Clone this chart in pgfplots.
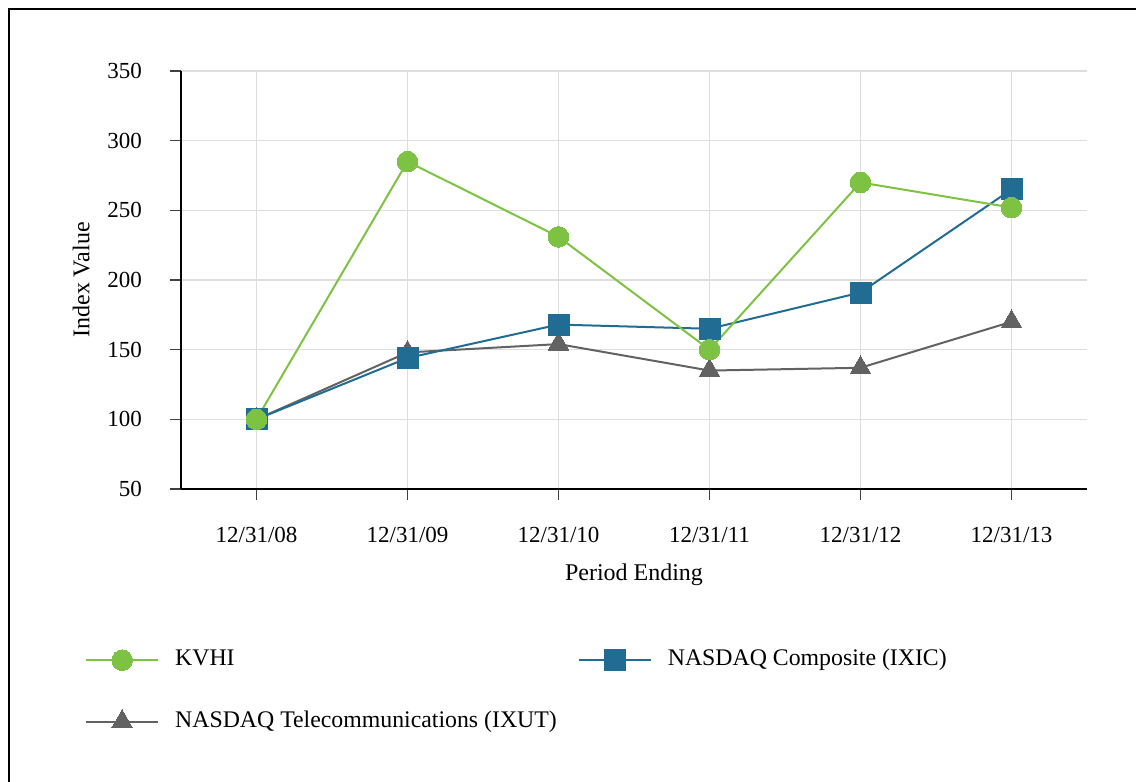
\documentclass[border=0pt]{standalone}
\usepackage{pgfplots}
\pgfplotsset{compat=1.18}
\usepackage{fontspec}
\setmainfont{Liberation Serif}

\definecolor{kvgreen}{RGB}{125,194,66}
\definecolor{ixblue}{RGB}{32,108,146}
\definecolor{utgray}{RGB}{98,98,98}
\definecolor{gridgray}{RGB}{222,222,222}

\begin{document}
\fontsize{23}{27}\selectfont
\begin{tikzpicture}[x=1pt,y=1pt]
\path[use as bounding box] (0,0) rectangle (1136,782);
\draw[line width=2.5pt] (9,0) -- (9,773) -- (1136,773);
\begin{axis}[
  at={(181pt,293pt)}, anchor=south west,
  scale only axis, width=906pt, height=418pt,
  xmin=-0.5, xmax=5.5, ymin=50, ymax=350,
  xtick={0,1,2,3,4,5},
  xticklabels={12/31/08,12/31/09,12/31/10,12/31/11,12/31/12,12/31/13},
  ytick={50,100,150,200,250,300,350},
  /pgf/number format/assume math mode=true,
  axis x line*=bottom, axis y line*=left,
  axis line style={line width=2.4pt, black, -},
  grid=major, major grid style={gridgray, line width=1.4pt},
  tick align=outside, major tick length=11pt,
  tick style={line width=1.4pt, black!75},
  xticklabel style={inner sep=0pt, yshift=-27pt},
  yticklabel style={inner sep=0pt, xshift=-28pt},
  xlabel={Period Ending},
  ylabel={Index Value},
  xlabel style={at={(axis description cs:0.5,-0.206)}, anchor=center, inner sep=0pt, font=\fontsize{24}{28}\selectfont},
  ylabel style={at={(axis description cs:-0.110,0.5)}, anchor=center, inner sep=0pt, font=\fontsize{24}{28}\selectfont},
  legend columns=2,
  reverse legend,
  legend cell align=left,
  legend style={at={(axis description cs:-0.106,-0.384)}, anchor=north west,
    draw=none, fill=none, inner sep=0pt, row sep=39pt,
    font=\fontsize{23.8}{28}\selectfont,
    nodes={inner sep=0pt, text height=16pt, text depth=5pt},
    /tikz/every odd column/.append style={column sep=16pt},
    /tikz/every even column/.append style={column sep=21pt}},
  legend image code/.code={\draw[mark repeat=2, mark phase=2] plot coordinates {(0pt,0pt) (36pt,0pt) (72pt,0pt)};},
]
\addplot[utgray, line width=2pt, mark=triangle*, mark size=12pt, mark options={fill=utgray, draw=utgray, line width=0pt}]
  coordinates {(0,100) (1,148) (2,154) (3,135) (4,137) (5,170)};
\addlegendentry{NASDAQ Telecommunications (IXUT)}
\addplot[ixblue, line width=2pt, mark=square*, mark size=10.5pt, mark options={fill=ixblue, draw=ixblue, line width=0pt}]
  coordinates {(0,100) (1,144) (2,168) (3,165) (4,191) (5,265)};
\addlegendentry{NASDAQ Composite (IXIC)}
\addplot[kvgreen, line width=2pt, mark=*, mark size=10.3pt, mark options={fill=kvgreen, draw=kvgreen, line width=0pt}]
  coordinates {(0,100) (1,285) (2,231) (3,150) (4,270) (5,252)};
\addlegendentry{KVHI}
\end{axis}
\end{tikzpicture}
\end{document}
